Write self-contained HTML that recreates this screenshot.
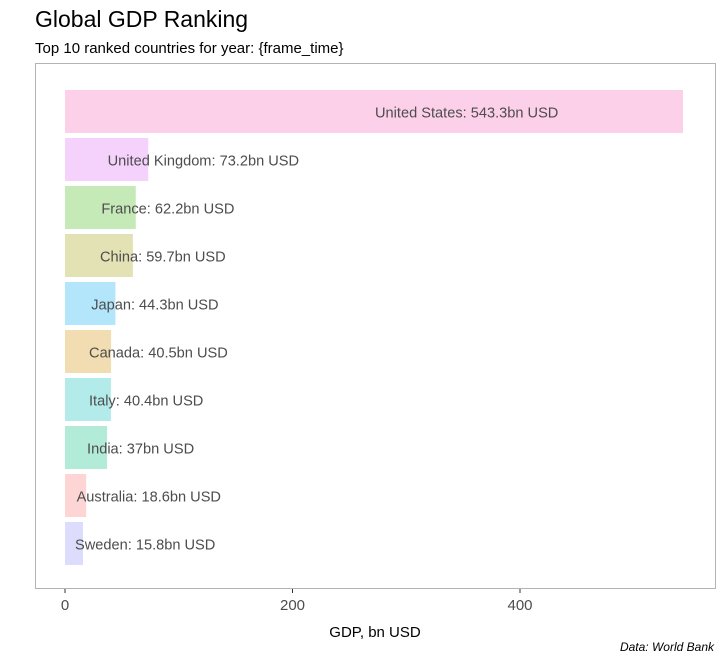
<!DOCTYPE html>
<html><head><meta charset="utf-8"><style>
body{margin:0;background:#fff;font-family:"Liberation Sans",sans-serif;}
svg text{font-family:"Liberation Sans",sans-serif;}
</style></head><body>
<svg width="725" height="664">
<text x="35" y="27" font-size="23" fill="#000">Global GDP Ranking</text>
<text x="35" y="53" font-size="15" fill="#000">Top 10 ranked countries for year: {frame_time}</text>
<rect x="35.5" y="63.5" width="680" height="525" fill="none" stroke="#b3b3b3"/>
<g id="bars"></g>
<g id="xaxis"></g>
<text x="375" y="637" font-size="15" text-anchor="middle" fill="#000">GDP, bn USD</text>
<text x="714" y="651" font-size="12" font-style="italic" text-anchor="end" fill="#000">Data: World  Bank</text>
</svg>
<script>
const countries=["United States","United Kingdom","France","China","Japan","Canada","Italy","India","Australia","Sweden"];
const values=[543.3,73.2,62.2,59.7,44.3,40.5,40.4,37,18.6,15.8];
const labels=["543.3bn USD","73.2bn USD","62.2bn USD","59.7bn USD","44.3bn USD","40.5bn USD","40.4bn USD","37bn USD","18.6bn USD","15.8bn USD"];
const colors=["#fdd0ea","#f5d2fc","#c6e9b8","#e3e2b5","#b3e5fb","#f2ddb3","#b3ebea","#b3ebd9","#fdd5d5","#dcdcfd"];
const ticks=[0,200,400];
const NS="http://www.w3.org/2000/svg";
const x=v=>65+v*(227.5/200);
const y=i=>90+i*48;
const bh=43;
const g=document.getElementById('bars');
countries.forEach((c,i)=>{
 const r=document.createElementNS(NS,'rect');
 r.setAttribute('x',x(0));r.setAttribute('y',y(i));
 r.setAttribute('width',x(values[i])-x(0));r.setAttribute('height',bh);
 r.setAttribute('fill',colors[i]);
 
 
 g.appendChild(r);
 const t=document.createElementNS(NS,'text');
 t.setAttribute('x',x(values[i]/2)+1);t.setAttribute('y',y(i)+bh/2+6);
 t.setAttribute('font-size','14.6');t.setAttribute('fill','#4d4d4d');
 t.textContent=c+': '+labels[i];
 
 
 g.appendChild(t);
});
const xa=document.getElementById('xaxis');
ticks.forEach(v=>{
 const l=document.createElementNS(NS,'line');
 l.setAttribute('x1',x(v));l.setAttribute('x2',x(v));l.setAttribute('y1',589);l.setAttribute('y2',593);
 l.setAttribute('stroke','#333');
 
 
 xa.appendChild(l);
 const t=document.createElementNS(NS,'text');
 t.setAttribute('x',x(v));t.setAttribute('y',610);t.setAttribute('font-size','15');
 t.setAttribute('text-anchor','middle');t.setAttribute('fill','#4d4d4d');
 t.textContent=v;
 
 
 xa.appendChild(t);
});
</script>
</body></html>
